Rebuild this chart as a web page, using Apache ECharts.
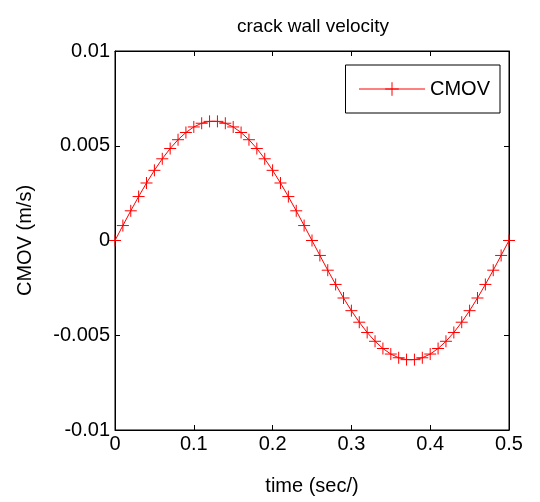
<!DOCTYPE html>
<html>
<head>
<meta charset="utf-8">
<script src="https://cdn.jsdelivr.net/npm/echarts@6/dist/echarts.min.js"></script>
<style>
  html, body { margin: 0; padding: 0; background: #fff; }
  #chart { width: 540px; height: 502px; }
</style>
</head>
<body>
<div id="chart"></div>
<script>
const timeList = [
  0, 0.01, 0.02, 0.03, 0.04, 0.05, 0.06, 0.07, 0.08, 0.09,
  0.1, 0.11, 0.12, 0.13, 0.14, 0.15, 0.16, 0.17, 0.18, 0.19,
  0.2, 0.21, 0.22, 0.23, 0.24, 0.25, 0.26, 0.27, 0.28, 0.29,
  0.3, 0.31, 0.32, 0.33, 0.34, 0.35, 0.36, 0.37, 0.38, 0.39,
  0.4, 0.41, 0.42, 0.43, 0.44, 0.45, 0.46, 0.47, 0.48, 0.49, 0.5
];
const cmovList = [
  0, 0.000789, 0.001567, 0.002319, 0.003035, 0.003703, 0.004312, 0.004854, 0.005319, 0.0057,
  0.005992, 0.006188, 0.006287, 0.006287, 0.006188, 0.005992, 0.0057, 0.005319, 0.004854, 0.004312,
  0.003703, 0.003035, 0.002319, 0.001567, 0.000789, 0,
  -0.000789, -0.001567, -0.002319, -0.003035, -0.003703, -0.004312, -0.004854, -0.005319, -0.0057,
  -0.005992, -0.006188, -0.006287, -0.006287, -0.006188, -0.005992, -0.0057, -0.005319, -0.004854,
  -0.004312, -0.003703, -0.003035, -0.002319, -0.001567, -0.000789, 0
];

const font = "Liberation Sans";
const plus = "path://M0,-1L0,1M-1,0L1,0";
const seriesData = timeList.map((t, i) => [t, cmovList[i]]);

// ticks point into the plot box, matlab style
const tickStyle = { show: true, inside: true, length: 5, lineStyle: { color: "#000" } };
const axisLine = { show: true, onZero: false, lineStyle: { color: "#000", width: 1 } };

const option = {
  animation: false,
  backgroundColor: "#fff",
  title: {
    text: "crack wall velocity",
    left: 308,
    textAlign: "center",
    top: 12,
    textStyle: { fontFamily: font, fontSize: 19, fontWeight: "normal", color: "#000" },
  },
  legend: {
    data: ["CMOV"],
    right: 40,
    top: 65,
    orient: "vertical",
    backgroundColor: "#fff",
    borderColor: "#000",
    borderWidth: 1,
    borderRadius: 0,
    padding: [14, 10, 14, 13],
    itemWidth: 66,
    itemHeight: 17,
    itemGap: 8,
    itemStyle: { color: "#ff0000", borderColor: "#ff0000", borderWidth: 1 },
    lineStyle: { color: "#ff0000", width: 1 },
    textStyle: { fontFamily: font, fontSize: 20, color: "#000" },
  },
  grid: {
    left: 115,
    right: 31,
    top: 51,
    bottom: 72,
    show: true,
    borderColor: "#000",
    borderWidth: 1,
  },
  xAxis: [
    {
      type: "value",
      min: 0,
      max: 0.5,
      interval: 0.1,
      name: "time (sec/)",
      nameLocation: "middle",
      nameGap: 46,
      nameTextStyle: { fontFamily: font, fontSize: 20, color: "#000" },
      axisLine: axisLine,
      axisTick: tickStyle,
      splitLine: { show: false },
      axisLabel: { fontFamily: font, fontSize: 20, color: "#000", margin: 4 },
    },
    {
      type: "value",
      position: "top",
      min: 0,
      max: 0.5,
      interval: 0.1,
      axisLine: axisLine,
      axisTick: tickStyle,
      splitLine: { show: false },
      axisLabel: { show: false },
    },
  ],
  yAxis: [
    {
      type: "value",
      min: -0.01,
      max: 0.01,
      interval: 0.005,
      name: "CMOV (m/s)",
      nameLocation: "middle",
      nameGap: 80,
      nameTextStyle: { fontFamily: font, fontSize: 20, color: "#000" },
      axisLine: axisLine,
      axisTick: tickStyle,
      splitLine: { show: false },
      axisLabel: { fontFamily: font, fontSize: 20, color: "#000", margin: 5 },
    },
    {
      type: "value",
      position: "right",
      min: -0.01,
      max: 0.01,
      interval: 0.005,
      axisLine: axisLine,
      axisTick: tickStyle,
      splitLine: { show: false },
      axisLabel: { show: false },
    },
  ],
  series: [
    {
      name: "CMOV",
      type: "line",
      data: seriesData,
      symbol: plus,
      symbolSize: 12,
      showAllSymbol: true,
      lineStyle: { color: "#ff0000", width: 1 },
      itemStyle: { color: "#ff0000", borderColor: "#ff0000", borderWidth: 1 },
    },
  ],
};
echarts.init(document.getElementById("chart")).setOption(option);
</script>
</body>
</html>
